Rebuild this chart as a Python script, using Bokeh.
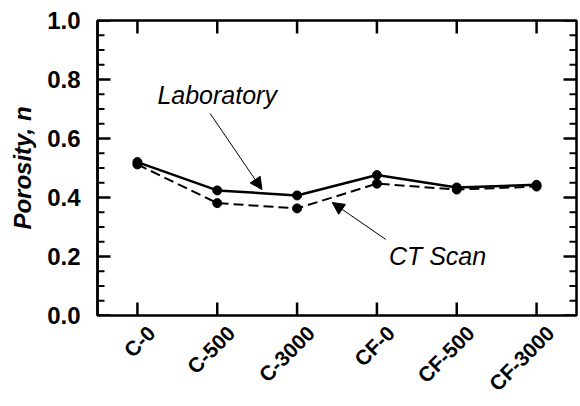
import math
from bokeh.plotting import figure
from bokeh.models import (LinearAxis, FixedTicker, Range1d, Label, Arrow, NormalHead)
from bokeh.embed import file_html
from bokeh.resources import INLINE

categories = ["C-0", "C-500", "C-3000", "CF-0", "CF-500", "CF-3000"]
positions = [1, 2, 3, 4, 5, 6]
laboratory = [0.52, 0.424, 0.407, 0.476, 0.434, 0.443]
ct_scan = [0.512, 0.381, 0.363, 0.447, 0.427, 0.437]
yticks = [0.0, 0.2, 0.4, 0.6, 0.8, 1.0]
yminor = [0.05, 0.1, 0.15, 0.25, 0.3, 0.35, 0.45, 0.5, 0.55, 0.65, 0.7, 0.75, 0.85, 0.9, 0.95]

FONT = "Liberation Sans"
X0, X1 = 0.5, 6.5
Y0, Y1 = 0.0, 1.0
LABEL_SHIFT = 0.175  # shifts rotated category labels to the right of their ticks

p = figure(width=580, height=406, output_backend="svg", toolbar_location=None,
           x_range=Range1d(X0, X1), y_range=Range1d(Y0, Y1),
           min_border_left=97, min_border_top=20, min_border_right=4, min_border_bottom=89)
p.grid.visible = False
p.outline_line_color = "black"
p.outline_line_width = 2.5
p.background_fill_color = "white"
p.border_fill_color = "white"
p.extra_x_ranges = {"labels": Range1d(X0 - LABEL_SHIFT, X1 - LABEL_SHIFT)}

def style_axis(ax):
    ax.axis_line_width = 2.5
    ax.axis_line_color = "black"
    ax.major_tick_in = 0
    ax.major_tick_out = 0
    ax.minor_tick_in = 0
    ax.minor_tick_out = 0

# left axis
ya = p.yaxis[0]
ya.ticker = FixedTicker(ticks=yticks, minor_ticks=yminor)
style_axis(ya)
ya.major_label_overrides = {0: "0.0", 1: "1.0"}
ya.major_label_text_font = FONT
ya.major_label_text_font_style = "bold"
ya.major_label_text_font_size = "24px"
ya.major_label_text_color = "black"
ya.major_label_standoff = 17
ya.axis_label = "Porosity, n"
ya.axis_label_text_font = FONT
ya.axis_label_text_font_style = "bold italic"
ya.axis_label_text_font_size = "24px"
ya.axis_label_text_color = "black"
ya.axis_label_standoff = 8

# bottom axis carrying the rotated category labels (frame outline draws the line)
p.xaxis.visible = False
la = LinearAxis(x_range_name="labels", ticker=FixedTicker(ticks=positions, minor_ticks=[]))
style_axis(la)
la.axis_line_color = None
la.major_label_overrides = {pos: c for pos, c in zip(positions, categories)}
la.major_label_orientation = math.pi / 4
la.major_label_text_font = FONT
la.major_label_text_font_style = "bold"
la.major_label_text_font_size = "21px"
la.major_label_text_color = "black"
la.major_label_standoff = 14
p.add_layout(la, "below")

# inward ticks: dash markers centred on the frame edges, clipped by the frame
MAJ, MIN = 26, 14
p.scatter([X0] * len(yticks), yticks, marker="dash", size=MAJ, line_width=2.5, line_color="black")
p.scatter([X1] * len(yticks), yticks, marker="dash", size=MAJ, line_width=2.5, line_color="black")
p.scatter([X0] * len(yminor), yminor, marker="dash", size=MIN, line_width=2, line_color="black")
p.scatter([X1] * len(yminor), yminor, marker="dash", size=MIN, line_width=2, line_color="black")
p.scatter(positions, [Y0] * len(positions), marker="dash", angle=math.pi / 2, size=MAJ,
          line_width=2.5, line_color="black")
p.scatter(positions, [Y1] * len(positions), marker="dash", angle=math.pi / 2, size=MAJ,
          line_width=2.5, line_color="black")

# data
p.line(positions, ct_scan, line_color="black", line_width=2, line_dash="10 5")
p.scatter(positions, ct_scan, size=9, fill_color="black", line_color="black")
p.line(positions, laboratory, line_color="black", line_width=2.5)
p.scatter(positions, laboratory, size=9, fill_color="black", line_color="black")

# annotations
lab_text_pos = (1.25, 0.746)
ct_text_pos = (4.15, 0.202)
lab_arrow = (1.91, 0.685, 2.56, 0.427)
ct_arrow = (4.11, 0.258, 3.44, 0.383)

for txt, (tx, ty) in [("Laboratory", lab_text_pos), ("CT Scan", ct_text_pos)]:
    p.add_layout(Label(x=tx, y=ty, text=txt, text_font=FONT, text_font_style="italic",
                       text_font_size="25px", text_color="black", text_baseline="middle"))

for (x0, y0, x1, y1) in [lab_arrow, ct_arrow]:
    p.add_layout(Arrow(x_start=x0, y_start=y0, x_end=x1, y_end=y1, line_width=1,
                       line_color="black",
                       end=NormalHead(size=12, fill_color="black", line_color="black")))

open("out.html", "w").write(file_html(p, INLINE))
